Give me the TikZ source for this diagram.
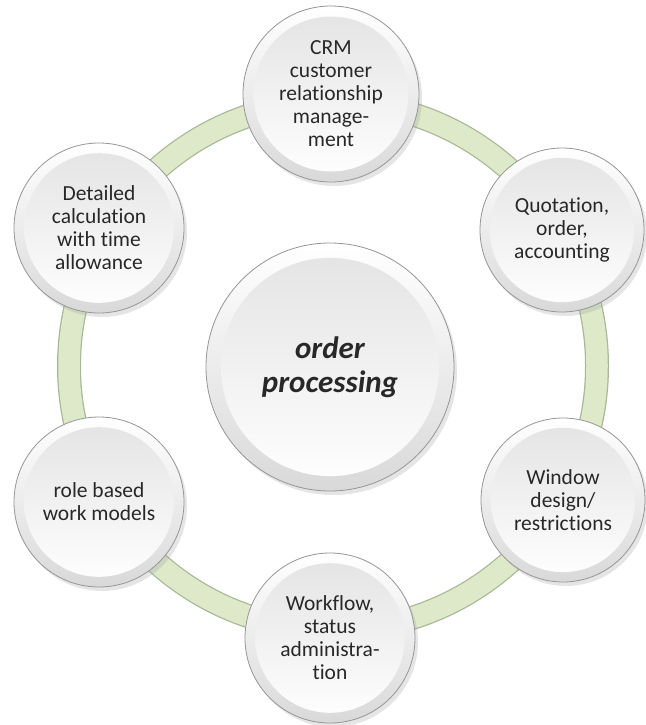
\documentclass[tikz,border=0pt]{standalone}
\usepackage{fontspec}
\setmainfont{Carlito}[Ligatures={NoCommon,NoRare,NoContextual},Contextuals=NoAlternate]
\usetikzlibrary{shadows,calc}
\definecolor{ringfill}{RGB}{221,233,201}
\definecolor{ringedge}{RGB}{168,184,150}
\definecolor{txt}{RGB}{40,40,40}
\definecolor{rimedge}{RGB}{150,150,150}
\newcommand{\septi}{t\kern0pt i}
\tikzset{
  bubble/.style={circle, draw=rimedge, line width=0.8pt, inner sep=0pt,
    top color=white, bottom color=gray!30, text=txt, align=center,
    drop shadow={shadow xshift=3pt, shadow yshift=-4pt, opacity=0.25, fill=gray!80},
    path picture={
      \shade[top color=gray!22, bottom color=white]
        let \p1=(path picture bounding box.center), \p2=(path picture bounding box.north)
        in (\p1) circle ({0.88*(\y2-\y1)});
    }},
  small/.style={bubble, minimum size=170pt, font=\fontsize{21.5}{23}\selectfont},
  big/.style={bubble, minimum size=248pt, font=\fontsize{31}{34}\selectfont\bfseries\itshape},
}
\begin{document}
\begin{tikzpicture}[x=1pt,y=-1pt]
\useasboundingbox (0,0) rectangle (645,725);
\fill[white] (0,0) rectangle (645,725);
\coordinate (rc) at (333,366);
\draw[ringedge, line width=24pt] (rc) circle (264);
\draw[ringfill, line width=21.5pt] (rc) circle (264);
\node[big] (c) at (330,367) {order\\processing};
\node[small, minimum size=176pt] (crm) at (331,94) {CRM\\customer\\rela\septi onship\\manage-\\ment};
\node[small, minimum size=164pt] (quo) at (562,230) {Quota\septi on,\\order,\\accoun\septi ng};
\node[small, minimum size=164pt] (win) at (563,500) {Window\\design/\\restric\septi ons};
\node[small] (wf) at (330,638) {Workflow,\\status\\administra-\\\septi on};
\node[small] (role) at (99,502) {role based\\work models};
\node[small] (det) at (99,228) {Detailed\\calcula\septi on\\with \septi me\\allowance};
\end{tikzpicture}
\end{document}
